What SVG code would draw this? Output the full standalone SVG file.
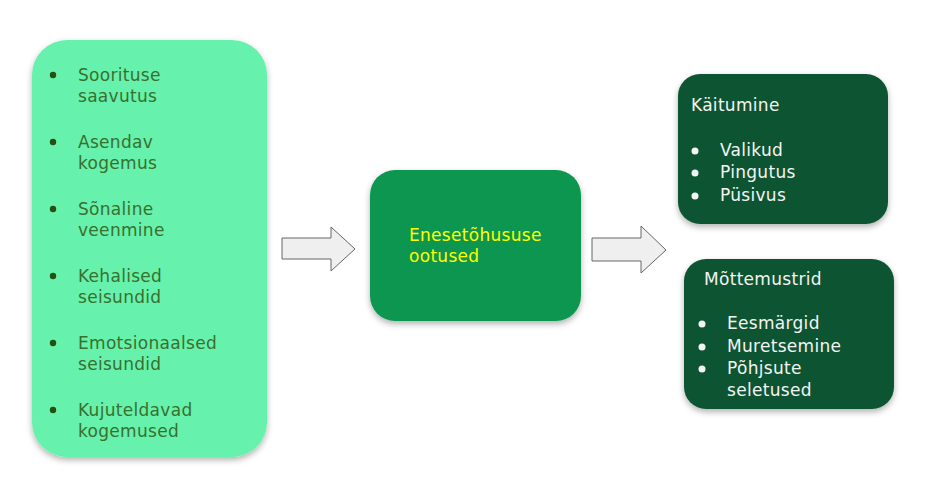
<svg xmlns="http://www.w3.org/2000/svg" width="931" height="485" viewBox="0 0 931 485">
<defs>
<filter id="sh" x="-20%" y="-20%" width="140%" height="140%">
<feDropShadow dx="0" dy="3" stdDeviation="3" flood-color="#000" flood-opacity="0.3"/>
</filter>
<style>
text{font-family:"DejaVu Sans","Open Sans",sans-serif;font-size:17px;letter-spacing:0.3px}
.lt{fill:#38702e}
.bl{fill:#274e13}
.wt{fill:#f3f3f3}
.wb{fill:#f3f3f3}
.arrow{fill:#efefef;stroke:#666666;stroke-width:1}
</style>
</defs>
<rect width="931" height="485" fill="#ffffff"/>
<g id="sources">
<rect x="32" y="40" width="235" height="417" rx="35" fill="#66f2ac" filter="url(#sh)"/>
<circle class="bl" cx="53" cy="75" r="3.2"/>
<text class="lt" x="78" y="81">Soorituse</text>
<text class="lt" x="78" y="102">saavutus</text>
<circle class="bl" cx="53" cy="142" r="3.2"/>
<text class="lt" x="78" y="148">Asendav</text>
<text class="lt" x="78" y="169">kogemus</text>
<circle class="bl" cx="53" cy="209" r="3.2"/>
<text class="lt" x="78" y="215">Sõnaline</text>
<text class="lt" x="78" y="236">veenmine</text>
<circle class="bl" cx="53" cy="276" r="3.2"/>
<text class="lt" x="78" y="282">Kehalised</text>
<text class="lt" x="78" y="303">seisundid</text>
<circle class="bl" cx="53" cy="343" r="3.2"/>
<text class="lt" x="78" y="349">Emotsionaalsed</text>
<text class="lt" x="78" y="370">seisundid</text>
<circle class="bl" cx="53" cy="410" r="3.2"/>
<text class="lt" x="78" y="416">Kujuteldavad</text>
<text class="lt" x="78" y="437">kogemused</text>
</g>
<g id="connectors">
<polygon class="arrow" points="282,238 331,238 331,227 355,249 331,271 331,259 282,259"/>
<polygon class="arrow" points="592,238 641,238 641,226 666,250 641,273 641,261 592,261"/>
</g>
<g id="expectations">
<rect x="370" y="170" width="211" height="151" rx="25" fill="#10964f" filter="url(#sh)"/>
<text x="409" y="241" fill="#ffff00">Enesetõhususe</text>
<text x="409" y="262" fill="#ffff00">ootused</text>
</g>
<g id="behaviour">
<rect x="678" y="74" width="210" height="150" rx="22" fill="#0a5532" filter="url(#sh)"/>
<text class="wt" x="691" y="111">Käitumine</text>
<circle class="wb" cx="695" cy="151" r="3.5"/>
<text class="wt" x="720" y="156">Valikud</text>
<circle class="wb" cx="695" cy="173" r="3.5"/>
<text class="wt" x="720" y="178">Pingutus</text>
<circle class="wb" cx="695" cy="196" r="3.5"/>
<text class="wt" x="720" y="201">Püsivus</text>
</g>
<g id="thoughts">
<rect x="684" y="259" width="210" height="150" rx="22" fill="#0a5532" filter="url(#sh)"/>
<text class="wt" x="704" y="285">Mõttemustrid</text>
<circle class="wb" cx="702" cy="324" r="3.5"/>
<text class="wt" x="727" y="329">Eesmärgid</text>
<circle class="wb" cx="702" cy="347" r="3.5"/>
<text class="wt" x="727" y="352">Muretsemine</text>
<circle class="wb" cx="702" cy="369" r="3.5"/>
<text class="wt" x="727" y="374">Põhjsute</text>
<text class="wt" x="727" y="396">seletused</text>
</g>
</svg>
